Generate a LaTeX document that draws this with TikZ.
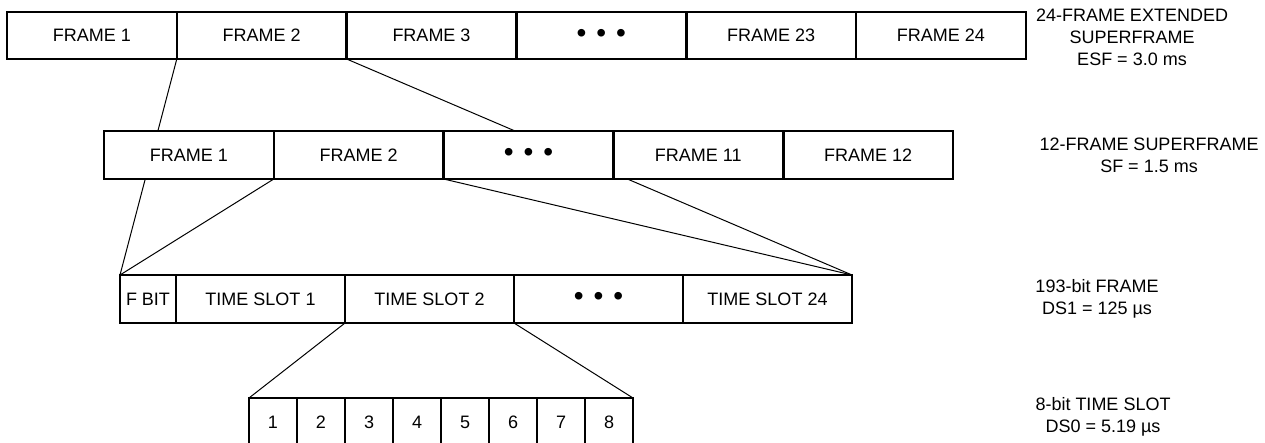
\documentclass[tikz,border=0pt]{standalone}
\usepackage{fontspec}
\setmainfont{Liberation Sans}
\usetikzlibrary{positioning, backgrounds}
\tikzset{
	cell/.style={draw, line width=2.6pt, fill=white, inner sep=0pt, outer sep=0pt, minimum height=48pt, minimum width=169.8pt, font=\fontsize{18}{22}\selectfont},
	slot/.style={cell, minimum width=169pt},
	bitcell/.style={cell, minimum width=48pt},
	fan/.style={line width=1pt},
	caption/.style={align=center, inner sep=0pt, font=\fontsize{18}{22}\selectfont}
}
\newcommand{\bulletrow}{{\fontsize{28}{28}\selectfont •\hspace{10pt}•\hspace{10pt}•}}
\begin{document}
\begin{tikzpicture}[x=1pt, y=-1pt]
		\useasboundingbox (0,0) rectangle (1265,442);
		\node[cell, minimum height=47pt] (esf1) at (91.9,35.5) {FRAME 1};
		\node[cell, minimum height=47pt, right=0pt of esf1] (esf2) {FRAME 2};
		\node[cell, minimum height=47pt, right=0pt of esf2] (esf3) {FRAME 3};
		\node[cell, minimum height=47pt, right=0pt of esf3] (esfdots) {\bulletrow};
		\node[cell, minimum height=47pt, right=0pt of esfdots] (esf23) {FRAME 23};
		\node[cell, minimum height=47pt, right=0pt of esf23] (esf24) {FRAME 24};
		\node[cell] (sf1) at (188.9,155) {FRAME 1};
		\node[cell, right=0pt of sf1] (sf2) {FRAME 2};
		\node[cell, right=0pt of sf2] (sfdots) {\bulletrow};
		\node[cell, right=0pt of sfdots] (sf11) {FRAME 11};
		\node[cell, right=0pt of sf11] (sf12) {FRAME 12};
		\node[cell, minimum width=56pt] (fbit) at (148,299) {F BIT};
		\node[slot, right=0pt of fbit] (ts1) {TIME SLOT 1};
		\node[slot, right=0pt of ts1] (ts2) {TIME SLOT 2};
		\node[slot, right=0pt of ts2] (tsdots) {\bulletrow};
		\node[slot, right=0pt of tsdots] (ts24) {TIME SLOT 24};
		\begin{scope}
			\clip (0,0) rectangle (1265,442);
			\node[bitcell] (bit1) at (273,422) {1};
			\node[bitcell, right=0pt of bit1] (bit2) {2};
			\node[bitcell, right=0pt of bit2] (bit3) {3};
			\node[bitcell, right=0pt of bit3] (bit4) {4};
			\node[bitcell, right=0pt of bit4] (bit5) {5};
			\node[bitcell, right=0pt of bit5] (bit6) {6};
			\node[bitcell, right=0pt of bit6] (bit7) {7};
			\node[bitcell, right=0pt of bit7] (bit8) {8};
		\end{scope}
		\begin{scope}[on background layer]
			\draw[fan] (esf2.south west) -- (fbit.north west);
			\draw[fan] (esf2.south east) -- (ts24.north east);
			\draw[fan] (sf2.south west) -- (fbit.north west);
			\draw[fan] (sf2.south east) -- (ts24.north east);
			\draw[fan] (ts2.south west) -- (bit1.north west);
			\draw[fan] (ts2.south east) -- (bit8.north east);
		\end{scope}
		\node[caption] (lblesf) at (1132,37) {24-FRAME EXTENDED\\SUPERFRAME\\ESF = 3.0 ms};
		\node[caption] (lblsf) at (1149,155.5) {12-FRAME SUPERFRAME\\SF = 1.5 ms};
		\node[caption] (lblds1) at (1097,298.5) {193-bit FRAME\\DS1 = 125 µs};
		\node[caption] (lblds0) at (1103,416.5) {8-bit TIME SLOT\\DS0 = 5.19 µs};
\end{tikzpicture}
\end{document}
